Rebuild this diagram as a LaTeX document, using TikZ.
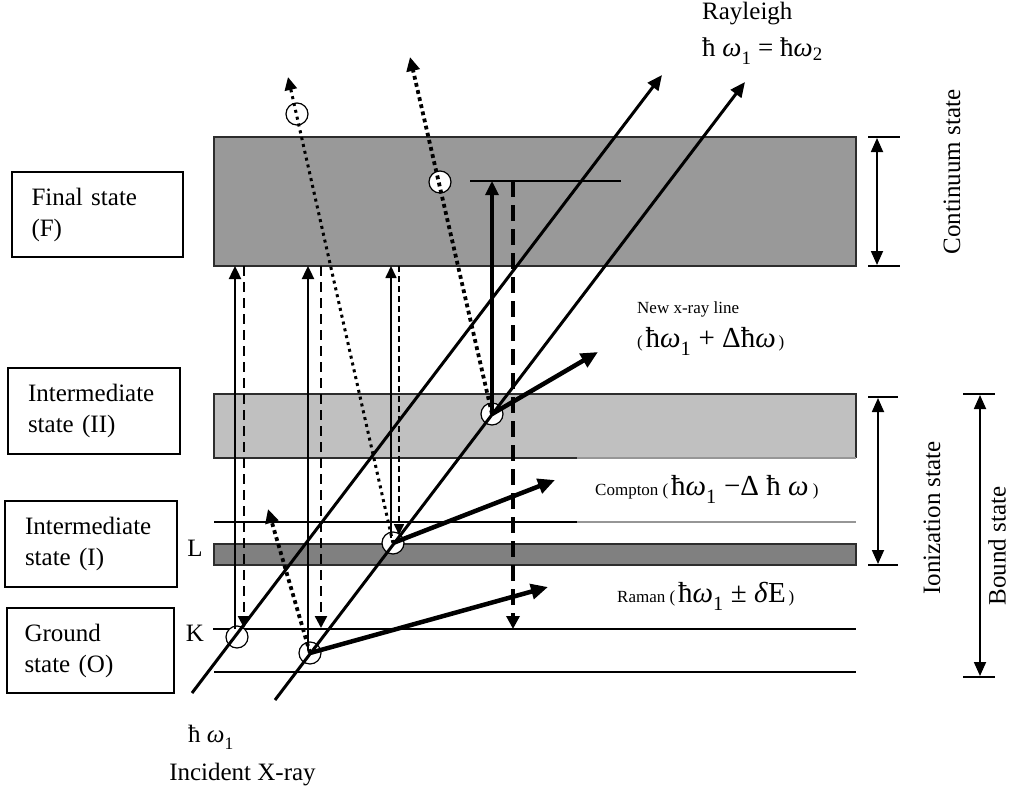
\documentclass[tikz,border=0pt]{standalone}
\usepackage{fontspec}
\setmainfont{Liberation Serif}
\usetikzlibrary{arrows.meta}
\definecolor{bandF}{RGB}{153,153,153}
\definecolor{bandM}{RGB}{192,192,192}
\definecolor{bandL}{RGB}{128,128,128}
\definecolor{edgecol}{RGB}{45,45,45}
\definecolor{faint}{RGB}{150,150,150}
\newcommand\txtsz{\fontsize{25}{31}\selectfont}
\newcommand\lblsz{\fontsize{17}{20}\selectfont}
\newcommand\symsz{\fontsize{29}{32}\selectfont}
\newcommand\eqsz{\fontsize{27}{31}\selectfont}
\newcommand\om{\textit{ω}}
\newcommand\lowone{\raisebox{-0.3ex}{\textsubscript{1}}}
\begin{document}
\begin{tikzpicture}[x=1pt,y=-1pt,
  bandline/.style={draw=edgecol,line width=1.4pt},
  thin/.style={line width=1.2pt},
  statebox/.style={draw,line width=1.2pt,font=\txtsz,align=left,text width=132pt,inner sep=0pt},
  lbl/.style={inner sep=0pt},
  hole/.style={circle,draw,fill=white,minimum size=22pt,inner sep=0pt,line width=1.2pt},
  ray/.style={line width=3pt,-{Triangle[length=15pt,width=13pt]}},
  emit/.style={line width=4.5pt,-{Triangle[length=17pt,width=15pt]}},
  upA/.style={line width=2.4pt,-{Triangle[length=13pt,width=12pt]}},
  upB/.style={line width=1.7pt,-{Triangle[length=12pt,width=11pt]}},
  upC/.style={line width=3.2pt,-{Triangle[length=14pt,width=13pt]}},
  dashA/.style={line width=2.4pt,dash pattern=on 10pt off 6pt,-{Triangle[length=12pt,width=12pt]}},
  dashB/.style={line width=1.6pt,dash pattern=on 6pt off 4pt,-{Triangle[length=11pt,width=10pt]}},
  dashC/.style={line width=3.4pt,dash pattern=on 16pt off 8pt,-{Triangle[length=13pt,width=13pt]}},
  dotsA/.style={line width=3pt,dash pattern=on 3pt off 4pt,-{Triangle[length=13pt,width=12pt]}},
  dotsB/.style={line width=3.8pt,dash pattern=on 3.8pt off 3.5pt,-{Triangle[length=14pt,width=13pt]}},
  span/.style={line width=1.8pt,{Triangle[length=14pt,width=12pt]}-{Triangle[length=14pt,width=12pt]}}
]
\useasboundingbox (0,0) rectangle (1013,792);

% energy bands
\draw[bandline,fill=bandF] (214,137) rectangle (856,266);
\fill[bandM] (214,394) rectangle (856,458);
\draw[bandline] (577,458) -- (214,458) -- (214,394) -- (856,394) -- (856,458);
\draw[faint,thin] (577,458) -- (856,458);
\draw[thin] (214,522) -- (577,522);
\draw[faint,thin] (577,522) -- (856,522);
\draw[bandline,fill=bandL] (214,544) rectangle (856,565);
\draw[thin] (213,629) -- (856,629);
\draw[thin] (214,672) -- (856,672);
\draw[thin] (470,181) -- (621,181);

% state boxes
\node[statebox,minimum width=171pt,minimum height=85pt] (fin) at (97.5,214.5) {Final state\\(F)};
\node[statebox,minimum width=172pt,minimum height=86pt] (int2) at (94,411) {Intermediate\\state (II)};
\node[statebox,minimum width=172pt,minimum height=86pt] (int1) at (91,544) {Intermediate\\state (I)};
\node[statebox,minimum width=167pt,minimum height=85pt] (gnd) at (90.5,650.5) {Ground\\state (O)};

% shell labels
\node[font=\txtsz] (L) at (195,548) {L};
\node[font=\txtsz] (K) at (195,633) {K};

% interaction points
\node[hole] (pK) at (237,637) {};
\node[hole] (pO) at (310,653) {};
\node[hole] (pC) at (393,543) {};
\node[hole] (pN) at (492,414) {};
\node[hole] (e1) at (297,114) {};
\node[hole] (e2) at (440,182) {};

% incident and Rayleigh rays
\coordinate (r1s) at (192,693);
\coordinate (r1e) at (662,75);
\coordinate (r2s) at (275,700);
\coordinate (r2e) at (745,82);
\draw[ray] (r1s) -- (r1e);
\draw[ray] (r2s) -- (r2e);

% excitation (solid) and relaxation (dashed) transitions
\coordinate (a1b) at (235,629);
\coordinate (a1t) at (235,266);
\coordinate (d1t) at (244,266);
\coordinate (d1b) at (244,628);
\draw[upA] (a1b) -- (a1t);
\draw[dashA] (d1t) -- (d1b);
\coordinate (a2b) at (308,650);
\coordinate (a2t) at (308,266);
\coordinate (d2t) at (321,266);
\coordinate (d2b) at (321,628);
\draw[upA] (a2b) -- (a2t);
\draw[dashA] (d2t) -- (d2b);
\coordinate (a3b) at (391,538);
\coordinate (a3t) at (391,266);
\coordinate (d3t) at (399,266);
\coordinate (d3b) at (399,535);
\draw[upB] (a3b) -- (a3t);
\draw[dashB] (d3t) -- (d3b);
\coordinate (a4t) at (492,181);
\coordinate (d4t) at (513,181);
\coordinate (d4b) at (513,629);
\draw[upC] (pN.center) -- (a4t);
\draw[dashC] (d4t) -- (d4b);

% ejected electrons
\coordinate (t1) at (288,77);
\coordinate (t2) at (410,57);
\coordinate (t3) at (268,509);
\draw[dotsA] (pC.center) -- (t1);
\draw[dotsB] (pN.center) -- (t2);
\draw[dotsB] (pO.center) -- (t3);

% scattered photons
\coordinate (nx) at (598,352);
\coordinate (cx) at (555,480);
\coordinate (rx) at (548,587);
\draw[emit] (pN.center) -- (nx);
\draw[emit] (pC.center) -- (cx);
\draw[emit] (pO.center) -- (rx);

% range markers
\draw[thin] (868,137) -- (900,137);
\draw[thin] (868,266) -- (900,266);
\coordinate (c1) at (877,138);
\coordinate (c2) at (877,265);
\draw[span] (c1) -- (c2);
\draw[thin] (868,397) -- (898,397);
\draw[thin] (868,565) -- (898,565);
\coordinate (i1) at (878,398);
\coordinate (i2) at (878,564);
\draw[span] (i1) -- (i2);
\draw[thin] (963,394) -- (995,394);
\draw[thin] (963,677) -- (995,677);
\coordinate (b1) at (980,395);
\coordinate (b2) at (980,676);
\draw[span] (b1) -- (b2);

\node[rotate=90,font=\txtsz] (cont) at (952,172) {Continuum state};
\node[rotate=90,font=\txtsz] (ion) at (932,518) {Ionization state};
\node[rotate=90,font=\txtsz] (bnd) at (997,546) {Bound state};

% process labels
\node[lbl,anchor=base west,font=\txtsz] (ray) at (702,20) {Rayleigh};
\node[lbl,anchor=base west,font=\eqsz] (rayf) at (702,57) {ħ \om\lowone{} = ħ\om\textsubscript{2}};
\node[lbl,anchor=base west,font=\lblsz] (newx) at (637,313) {New x-ray line};
\node[lbl,anchor=base west] (newf) at (637,347) {{\lblsz(\,}{\symsz ħ\om\lowone{} + Δħ\om}{\lblsz\,)}};
\node[lbl,anchor=base west] (comp) at (595,495) {{\lblsz Compton (\,}{\symsz ħ\om\lowone{} −Δ ħ \om}{\lblsz\ )}};
\node[lbl,anchor=base west] (ram) at (617,602) {{\lblsz Raman (\,}{\symsz ħ\om\lowone{} ± \textit{δ}E}{\lblsz\,)}};
\node[lbl,anchor=base west,font=\txtsz] (hw) at (188,742) {ħ \om\lowone};
\node[lbl,anchor=base,font=\txtsz] (inc) at (242.5,780) {Incident X-ray};
\end{tikzpicture}
\end{document}
